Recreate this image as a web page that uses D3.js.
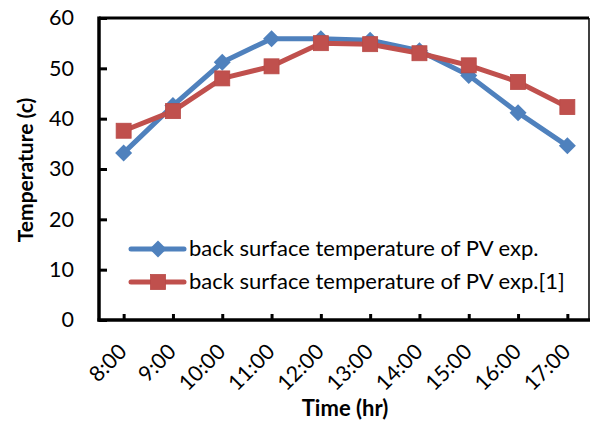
<!DOCTYPE html>
<html><head><meta charset="utf-8">
<script src="https://cdn.jsdelivr.net/npm/d3@7"></script>
<style>body{margin:0;background:#fff}svg{display:block}</style>
</head><body>
<script>
const categories = ["8:00","9:00","10:00","11:00","12:00","13:00","14:00","15:00","16:00","17:00"];
const seriesNames = ["back surface temperature of PV exp.","back surface temperature of PV exp.[1]"];
const exp = [33.2, 42.6, 51.2, 55.9, 55.9, 55.6, 53.5, 48.6, 41.2, 34.6];
const ref = [37.6, 41.5, 48.0, 50.4, 55.0, 54.8, 53.0, 50.6, 47.3, 42.3];
const yTicks = [0,10,20,30,40,50,60];
const colors = ["#4F81BD","#C0504D"];

const W=590,H=421;
const m={l:99,t:18,r:589,b:320};
const svg=d3.select("body").append("svg").attr("width",W).attr("height",H);
const font="Lato, 'Open Sans', sans-serif";
const x=d3.scalePoint().domain(categories).range([m.l,m.r+3]).padding(0.5);
const y=d3.scaleLinear().domain([0,60]).range([m.b,m.t]);

// plot border
svg.append("line").attr("x1",m.l).attr("x2",m.r).attr("y1",m.t).attr("y2",m.t).attr("stroke","#000").attr("stroke-width",3);
svg.append("line").attr("x1",m.r).attr("x2",m.r).attr("y1",m.t).attr("y2",m.b).attr("stroke","#000").attr("stroke-width",1.5);

// y axis
const ya=svg.append("g").attr("transform",`translate(${m.l},0)`).call(d3.axisLeft(y).tickValues(yTicks).tickSize(-8).tickPadding(25));
ya.select(".domain").attr("stroke","#000").attr("stroke-width",3.5).attr("d",`M0,${m.t-1.5}V${m.b+1.5}`);
ya.selectAll(".tick line").attr("stroke-width",3);
ya.selectAll("text").attr("font-family",font).attr("font-size",21.5).attr("fill","#000");

// x axis
const xa=svg.append("g").attr("transform",`translate(0,${m.b})`).call(d3.axisBottom(x).tickSize(-6).tickPadding(6));
xa.select(".domain").attr("stroke","#000").attr("stroke-width",3.5).attr("d",`M${m.l-1.5},0H${m.r+1}`);
xa.selectAll(".tick line").attr("stroke-width",3);
xa.selectAll("text").attr("font-family",font).attr("font-size",21.5).attr("fill","#000")
  .attr("text-anchor","end").attr("dy",null).attr("y",0).attr("x",0)
  .attr("transform","translate(4,33) rotate(-45)");

// titles
svg.append("text").attr("x",345).attr("y",416).attr("text-anchor","middle").attr("font-family",font).attr("font-weight","bold").attr("font-size",22).text("Time (hr)");
svg.append("text").attr("transform",`translate(33,170) rotate(-90)`).attr("text-anchor","middle").attr("font-family",font).attr("font-weight","bold").attr("font-size",21).text("Temperature (c)");

const line=d3.line().x((d,i)=>x(categories[i])).y(d=>y(d));
const data=[exp,ref];
function marker(g,k,cx,cy){
  if(k===0){const s=8.5;g.append("path").attr("d",`M${cx},${cy-s}L${cx+s},${cy}L${cx},${cy+s}L${cx-s},${cy}Z`).attr("fill",colors[0]);}
  else {const s=7.5;g.append("rect").attr("x",cx-s).attr("y",cy-s).attr("width",2*s).attr("height",2*s).attr("fill",colors[1]).attr("stroke","#B84A47").attr("stroke-width",0.8);}
}
data.forEach((vals,k)=>{
  const g=svg.append("g");
  g.append("path").attr("d",line(vals)).attr("fill","none").attr("stroke",colors[k]).attr("stroke-width",5).attr("stroke-linejoin","round");
  vals.forEach((v,i)=>marker(g,k,x(categories[i]),y(v)));
});

// legend
const ly=[249,282];
seriesNames.forEach((n,k)=>{
  const g=svg.append("g");
  g.append("line").attr("x1",131).attr("x2",184).attr("y1",ly[k]).attr("y2",ly[k]).attr("stroke",colors[k]).attr("stroke-width",5).attr("stroke-linecap","round");
  marker(g,k,158,ly[k]);
  g.append("text").attr("x",189).attr("y",ly[k]+7).attr("font-family",font).attr("font-size",22).attr("fill","#000").text(n);
});
</script>
</body></html>
